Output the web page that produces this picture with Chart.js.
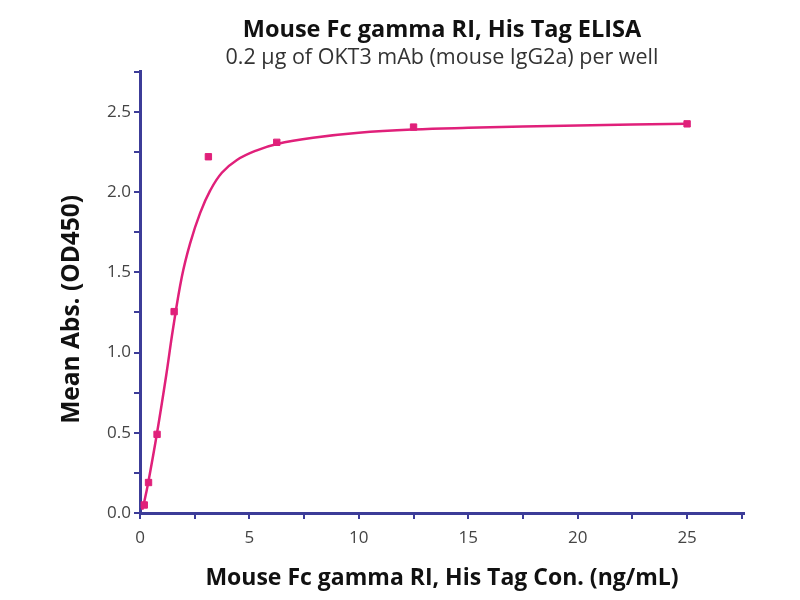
<!DOCTYPE html>
<html>
<head>
<meta charset="utf-8">
<script src="https://cdn.jsdelivr.net/npm/chart.js@4"></script>
<style>
html,body{margin:0;padding:0;background:#fff;}
#wrap{width:800px;height:600px;}
</style>
</head>
<body>
<div id="wrap"><canvas id="c" width="800" height="600"></canvas></div>
<script>
// Measured points: concentration (ng/mL) and mean absorbance
const concentrations = [0.195, 0.39, 0.78, 1.56, 3.125, 6.25, 12.5, 25];
const absorbances = [0.05, 0.19, 0.49, 1.255, 2.22, 2.31, 2.405, 2.425];
// Fitted curve
const curveX = [0.1, 0.195, 0.39, 0.78, 1.2, 1.5, 1.91, 2.29, 2.75, 3.21, 3.74, 4.43, 5.34, 6.26, 8, 10, 12.5, 15, 20, 25];
const curveY = [0.02, 0.07, 0.2, 0.5, 0.86, 1.14, 1.47, 1.68, 1.87, 2.01, 2.12, 2.2, 2.26, 2.3, 2.34, 2.37, 2.39, 2.4, 2.415, 2.425];
const xTickLabels = ['0', '5', '10', '15', '20', '25'];
const yTickLabels = ['0.0', '0.5', '1.0', '1.5', '2.0', '2.5'];
const yTitle = 'Mean Abs. (OD450)';

const axisColor = '#3c3c98';
const markColor = '#e0207a';
const fontFam = '"Open Sans", "Liberation Sans", sans-serif';

const pts = concentrations.map((x, i) => ({x: x, y: absorbances[i]}));
const curve = curveX.map((x, i) => ({x: x, y: curveY[i]}));

// y-axis title drawn slightly below the plot centre, as in the reference
const yTitlePlugin = {
  id: 'yTitle',
  afterDraw(chart) {
    const ctx = chart.ctx;
    const area = chart.chartArea;
    ctx.save();
    ctx.translate(72, (area.top + area.bottom) / 2 + 17);
    ctx.rotate(-Math.PI / 2);
    ctx.font = 'bold 24.5px ' + fontFam;
    ctx.fillStyle = '#111';
    ctx.textAlign = 'center';
    ctx.textBaseline = 'middle';
    ctx.fillText(yTitle, 0, 0);
    ctx.restore();
  }
};

new Chart(document.getElementById('c'), {
  type: 'scatter',
  data: {
    datasets: [
      {
        type: 'line',
        data: curve,
        borderColor: markColor,
        borderWidth: 2.5,
        pointRadius: 0,
        tension: 0.4,
        fill: false,
        order: 2
      },
      {
        data: pts,
        pointStyle: 'rect',
        pointRadius: 4.5,
        backgroundColor: markColor,
        borderColor: markColor,
        order: 1
      }
    ]
  },
  plugins: [yTitlePlugin],
  options: {
    responsive: false,
    animation: false,
    layout: {padding: {left: 0, right: 56, top: 0, bottom: 0}},
    plugins: {
      legend: {display: false},
      tooltip: {enabled: false},
      title: {
        display: true,
        fullSize: false,
        text: 'Mouse Fc gamma RI, His Tag ELISA',
        color: '#111',
        font: {family: fontFam, size: 23.5, weight: 'bold', lineHeight: 1.2},
        padding: {top: 16.7, bottom: 0}
      },
      subtitle: {
        display: true,
        fullSize: false,
        text: '0.2 µg of OKT3 mAb (mouse IgG2a) per well',
        color: '#333',
        font: {family: fontFam, size: 21.5, lineHeight: 1.2},
        padding: {top: 0, bottom: 1}
      }
    },
    scales: {
      x: {
        type: 'linear',
        min: 0,
        max: 27.6,
        afterFit: s => { s.height = 87; },
        afterBuildTicks: s => {
          const t = [];
          for (let v = 0; v <= 27.5; v += 2.5) t.push({value: v});
          s.ticks = t;
        },
        ticks: {
          color: '#444',
          font: {family: fontFam, size: 17},
          padding: 9,
          maxRotation: 0,
          autoSkip: false,
          callback: v => (Math.abs(v % 5) < 1e-6 ? xTickLabels[Math.round(v / 5)] : '')
        },
        grid: {drawOnChartArea: false, drawTicks: true, tickLength: 6, color: axisColor, lineWidth: 2},
        border: {display: true, color: axisColor, width: 3},
        title: {
          display: true,
          text: 'Mouse Fc gamma RI, His Tag Con. (ng/mL)',
          color: '#111',
          font: {family: fontFam, size: 23, weight: 'bold', lineHeight: 1.2},
          padding: {top: 0, bottom: 8}
        }
      },
      y: {
        type: 'linear',
        min: 0,
        max: 2.75,
        afterFit: s => { s.width = 140; },
        afterBuildTicks: s => {
          const t = [];
          for (let i = 0; i <= 11; i++) t.push({value: i * 0.25});
          s.ticks = t;
        },
        ticks: {
          color: '#444',
          font: {family: fontFam, size: 17},
          padding: 3,
          autoSkip: false,
          callback: v => {
            const k = Math.round(v / 0.25);
            return k % 2 === 0 ? yTickLabels[k / 2] : '';
          }
        },
        grid: {drawOnChartArea: false, drawTicks: true, tickLength: 6, color: axisColor, lineWidth: 2},
        border: {display: true, color: axisColor, width: 3},
        title: {display: false}
      }
    }
  }
});
</script>
</body>
</html>
